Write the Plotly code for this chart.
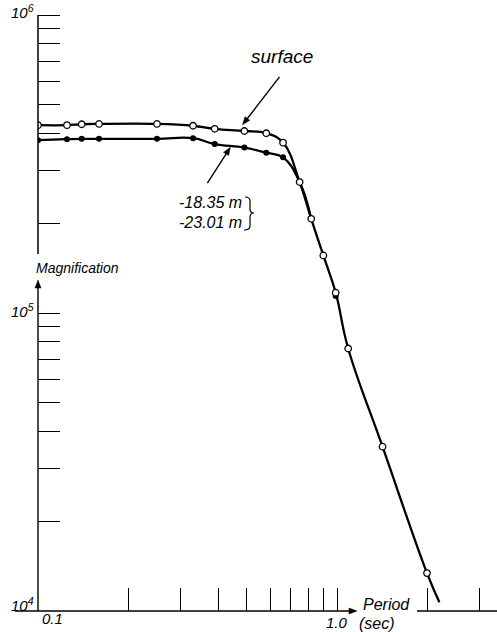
import math
import plotly.graph_objects as go

# ---- data ----
surface_period = [0.1, 0.125, 0.14, 0.16, 0.25, 0.33, 0.39, 0.49, 0.58, 0.66,
                  0.75, 0.82, 0.90, 0.99, 1.09, 1.42, 2.0]
surface_mag = [4.27e5, 4.27e5, 4.30e5, 4.31e5, 4.31e5, 4.25e5, 4.15e5, 4.08e5, 4.01e5, 3.73e5,
               2.75e5, 2.07e5, 1.56e5, 1.17e5, 7.6e4, 3.56e4, 1.34e4]
deep_period = [0.1, 0.125, 0.14, 0.16, 0.25, 0.33, 0.39, 0.49, 0.58, 0.66, 0.99]
deep_mag = [3.80e5, 3.83e5, 3.84e5, 3.84e5, 3.84e5, 3.86e5, 3.69e5, 3.59e5, 3.45e5, 3.33e5, 1.14e5]
curve_end_period = [2.2]
curve_end_mag = [1.07e4]

x_ticks = [0.2, 0.3, 0.4, 0.5, 0.6, 0.7, 0.8, 0.9, 1.0, 2.0, 3.0]
y_ticks = [2e4, 3e4, 4e4, 5e4, 6e4, 7e4, 8e4, 9e4,
           1e5, 2e5, 3e5, 4e5, 5e5, 6e5, 7e5, 8e5, 9e5, 1e6]
y_labels = [(1e6, "10<sup>6</sup>"), (1e5, "10<sup>5</sup>"), (1e4, "10<sup>4</sup>")]
x_labels = [(0.1, "0.1"), (1.0, "1.0")]
labels_depth = ["-18.35 m", "-23.01 m"]

# ---- geometry ----
W, H = 497, 632
ML, MR, MT, MB = 38, 0, 0, 21
PW, PH = W - ML - MR, H - MT - MB
DEC_X, DEC_Y = 299.0, 298.0
x_range = [-1, -1 + PW / DEC_X]
y_range = [4, 4 + PH / DEC_Y]
YB = H - MB


def px(xp, yp):
    return (xp - ML) / PW, (YB - yp) / PH


def data_px(period, mag):
    return ML + (math.log10(period) + 1) * DEC_X, YB - (math.log10(mag) - 4) * DEC_Y


FONT = "Liberation Sans, Arial, sans-serif"
it = dict(family=FONT, color="black", style="italic")

fig = go.Figure()

# curves
surf_line_x = surface_period + curve_end_period
surf_line_y = surface_mag + curve_end_mag
deep_line_x = deep_period[:-1] + surface_period[10:12]
deep_line_y = deep_mag[:-1] + surface_mag[10:12]

line_style = dict(color="black", width=2.3, shape="spline", smoothing=1.2)
fig.add_trace(go.Scatter(x=deep_line_x, y=deep_line_y, mode="lines", line=line_style,
                         hoverinfo="skip", showlegend=False))
fig.add_trace(go.Scatter(x=surf_line_x, y=surf_line_y, mode="lines", line=line_style,
                         hoverinfo="skip", showlegend=False))
fig.add_trace(go.Scatter(x=deep_period, y=deep_mag, mode="markers",
                         marker=dict(symbol="circle", size=6, color="black"),
                         showlegend=False))
fig.add_trace(go.Scatter(x=surface_period, y=surface_mag, mode="markers",
                         marker=dict(symbol="circle", size=6.5, color="white",
                                     line=dict(color="black", width=1.3)),
                         showlegend=False))

fig.update_xaxes(type="log", range=x_range, showgrid=False, zeroline=False, showline=False,
                 ticks="inside", ticklen=23, tickwidth=1.3, tickcolor="black",
                 tickvals=x_ticks, showticklabels=False)
fig.update_yaxes(type="log", range=y_range, showgrid=False, zeroline=False, showline=False,
                 ticks="inside", ticklen=22, tickwidth=1.3, tickcolor="black",
                 tickvals=y_ticks, showticklabels=False)

shapes = []
ann = []


def seg(x0, y0, x1, y1, w=1.5):
    a = px(x0, y0)
    b = px(x1, y1)
    shapes.append(dict(type="line", xref="paper", yref="paper", x0=a[0], y0=a[1],
                       x1=b[0], y1=b[1], line=dict(color="black", width=w)))


def text(xp, yp, t, size, xanchor="center", yanchor="middle"):
    p = px(xp, yp)
    ann.append(dict(xref="paper", yref="paper", x=p[0], y=p[1], text=t, showarrow=False,
                    xanchor=xanchor, yanchor=yanchor, font=dict(size=size, **it)))


def arrow(xh, yh, xt, yt, w=1.4, L=8.0, hw=3.0):
    dx, dy = xh - xt, yh - yt
    n = math.hypot(dx, dy)
    ux, uy = dx / n, dy / n
    bx, by = xh - ux * L, yh - uy * L
    seg(xt, yt, bx + ux * 1.0, by + uy * 1.0, w)
    p1 = px(xh, yh)
    p2 = px(bx - uy * hw, by + ux * hw)
    p3 = px(bx + uy * hw, by - ux * hw)
    shapes.append(dict(type="path", xref="paper", yref="paper",
                       path=f"M {p1[0]},{p1[1]} L {p2[0]},{p2[1]} L {p3[0]},{p3[1]} Z",
                       fillcolor="black", line=dict(color="black", width=0.5)))


# axes lines
seg(ML, 15, ML, 254)            # upper y segment
arrow(ML, 280, ML, YB)          # lower y segment with arrow
arrow(357, YB, 15, YB)          # x segment with arrow
seg(417, YB, W, YB)             # right x segment

# tick labels
for v, t in y_labels:
    yp = YB - (math.log10(v) - 4) * DEC_Y
    text(36, yp - 3 if v > 1e4 else yp - 7, t, 15, xanchor="right")
text(40, 618, x_labels[0][1], 15, xanchor="left")
text(337, 622, x_labels[1][1], 15)

# axis titles
text(77, 268, "Magnification", 14)
text(386, 604, "Period", 16)
text(377, 623, "(sec)", 16)

# series labels
text(282, 57, "surface", 19)
hx, hy = data_px(0.483, 4.28e5)
arrow(hx, hy, hx + 37, hy - 48)
text(210, 202, labels_depth[0], 16)
text(210, 222, labels_depth[1], 16)
hx, hy = data_px(0.44, 3.6e5)
arrow(hx, hy, hx - 23, hy + 36)

# brace
pts = [(245, 197), (250, 197), (250, 201), (250, 209), (250, 213), (254, 213),
       (250, 213), (250, 217), (250, 226), (250, 230), (244, 230)]
P = [px(*p) for p in pts]
path = (f"M {P[0][0]},{P[0][1]} Q {P[1][0]},{P[1][1]} {P[2][0]},{P[2][1]} "
        f"L {P[3][0]},{P[3][1]} Q {P[4][0]},{P[4][1]} {P[5][0]},{P[5][1]} "
        f"Q {P[6][0]},{P[6][1]} {P[7][0]},{P[7][1]} L {P[8][0]},{P[8][1]} "
        f"Q {P[9][0]},{P[9][1]} {P[10][0]},{P[10][1]}")
shapes.append(dict(type="path", xref="paper", yref="paper", path=path,
                   line=dict(color="black", width=1.2)))

fig.update_layout(width=W, height=H, margin=dict(l=ML, r=MR, t=MT, b=MB),
                  paper_bgcolor="white", plot_bgcolor="white",
                  shapes=shapes, annotations=ann, showlegend=False)

fig.write_html("out.html")
